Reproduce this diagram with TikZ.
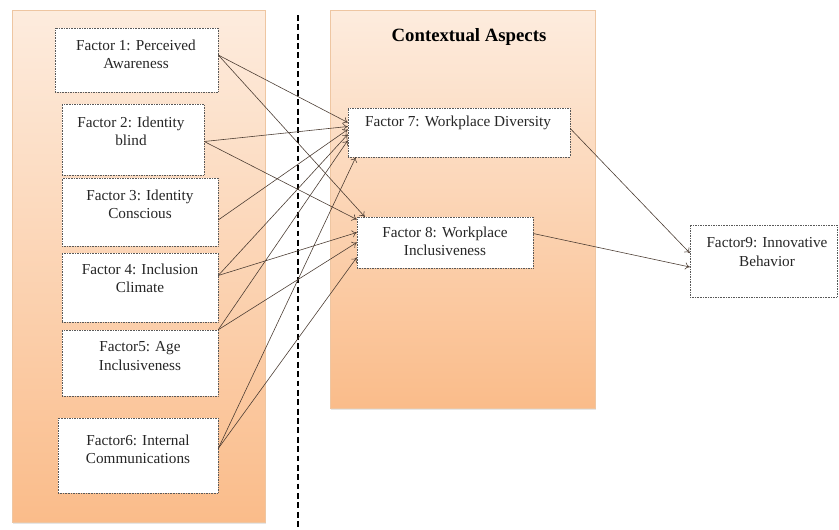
\documentclass[tikz,border=0pt]{standalone}
\usepackage{fontspec}
\setmainfont{Liberation Serif}
\usetikzlibrary{calc,fit,shadows,arrows.meta}
\definecolor{paneltop}{RGB}{253,236,222}
\definecolor{panelbot}{RGB}{250,188,138}
\definecolor{panelrim}{RGB}{238,198,162}
\definecolor{wirec}{RGB}{75,60,50}
\tikzset{
	panel/.style={draw=panelrim, top color=paneltop, bottom color=panelbot, drop shadow={opacity=0.2, shadow xshift=1pt, shadow yshift=-1.5pt}},
	factorbox/.style={draw=black!65, densely dotted, fill=white, inner sep=0pt},
	factortext/.style={align=center, inner sep=0pt, text=black!85, font=\fontsize{13}{15.5}\selectfont},
	wire/.style={color=wirec, line width=0.5pt, -{To[length=4pt, width=6pt]}}
}

\begin{document}
\begin{tikzpicture}[x=0.03cm, y=-0.03cm]
		%%%%% START %%%%%
		\useasboundingbox (0, 0) rectangle (839, 529);
		
		\draw[panel] (12, 10) rectangle (265, 522);
		\draw[panel] (330, 10) rectangle (595, 408);
		\draw[line width=1.3pt, dash pattern=on 5pt off 3pt] (298, 15) -- (298, 529);
		
		\node[font=\bfseries\fontsize{16}{19}\selectfont] (ctx) at (469, 37) {Contextual Aspects};
		
		\node[factorbox, fit={(55, 28) (218, 92)}] (f1) {};
		\node[factorbox, fit={(62, 104) (204, 175)}] (f2) {};
		\node[factorbox, fit={(62, 178) (218, 246)}] (f3) {};
		\node[factorbox, fit={(62, 253) (218, 322)}] (f4) {};
		\node[factorbox, fit={(62, 330) (218, 396)}] (f5) {};
		\node[factorbox, fit={(58, 418) (218, 493)}] (f6) {};
		\node[factorbox, fit={(348, 108) (570, 157)}] (f7) {};
		\node[factorbox, fit={(357, 217) (533, 268)}] (f8) {};
		\node[factorbox, fit={(690, 225) (837, 297)}] (f9) {};
		
		\node[factortext] (t1) at (136, 54) {Factor 1: Perceived\\Awareness};
		\node[factortext] (t2) at (131, 131) {Factor 2: Identity\\blind};
		\node[factortext] (t3) at (140, 204) {Factor 3: Identity\\Conscious};
		\node[factortext] (t4) at (140, 278) {Factor 4: Inclusion\\Climate};
		\node[factortext] (t5) at (140, 356) {Factor5: Age\\Inclusiveness};
		\node[factortext] (t6) at (138, 449) {Factor6: Internal\\Communications};
		\node[factortext] (t7) at (458, 123) {Factor 7: Workplace Diversity};
		\node[factortext] (t8) at (445, 241) {Factor 8: Workplace\\Inclusiveness};
		\node[factortext] (t9) at (767, 252) {Factor9: Innovative\\Behavior};
		
		\draw[wire] ($(f1.east)+(0, -5)$) -- ($(f7.west)+(0, -10)$);
		\draw[wire] ($(f1.east)+(0, -5)$) -- ($(f8.north west)+(8, 0)$);
		\draw[wire] ($(f2.east)+(0, 2)$) -- ($(f7.west)+(0, -6)$);
		\draw[wire] ($(f2.east)+(0, 2)$) -- ($(f8.west)+(0, -23)$);
		\draw[wire] ($(f3.east)+(0, 8)$) -- ($(f7.west)+(0, -3)$);
		\draw[wire] ($(f4.east)+(0, -12)$) -- ($(f7.west)+(0, 2)$);
		\draw[wire] ($(f4.east)+(0, -12)$) -- ($(f8.west)+(0, -10)$);
		\draw[wire] (f5.north east) -- ($(f7.west)+(0, 8)$);
		\draw[wire] (f5.north east) -- (f8.west);
		\draw[wire] ($(f6.east)+(0, -7)$) -- ($(f7.south west)+(8, 0)$);
		\draw[wire] ($(f6.east)+(0, -7)$) -- ($(f8.west)+(0, 15)$);
		
		\draw[wire] ($(f7.east)+(0, -4)$) -- ($(f9.west)+(0, -8)$);
		\draw[wire] ($(f8.east)+(0, -9)$) -- ($(f9.west)+(0, 6)$);
		%%%%% END %%%%%
\end{tikzpicture}
\end{document}
